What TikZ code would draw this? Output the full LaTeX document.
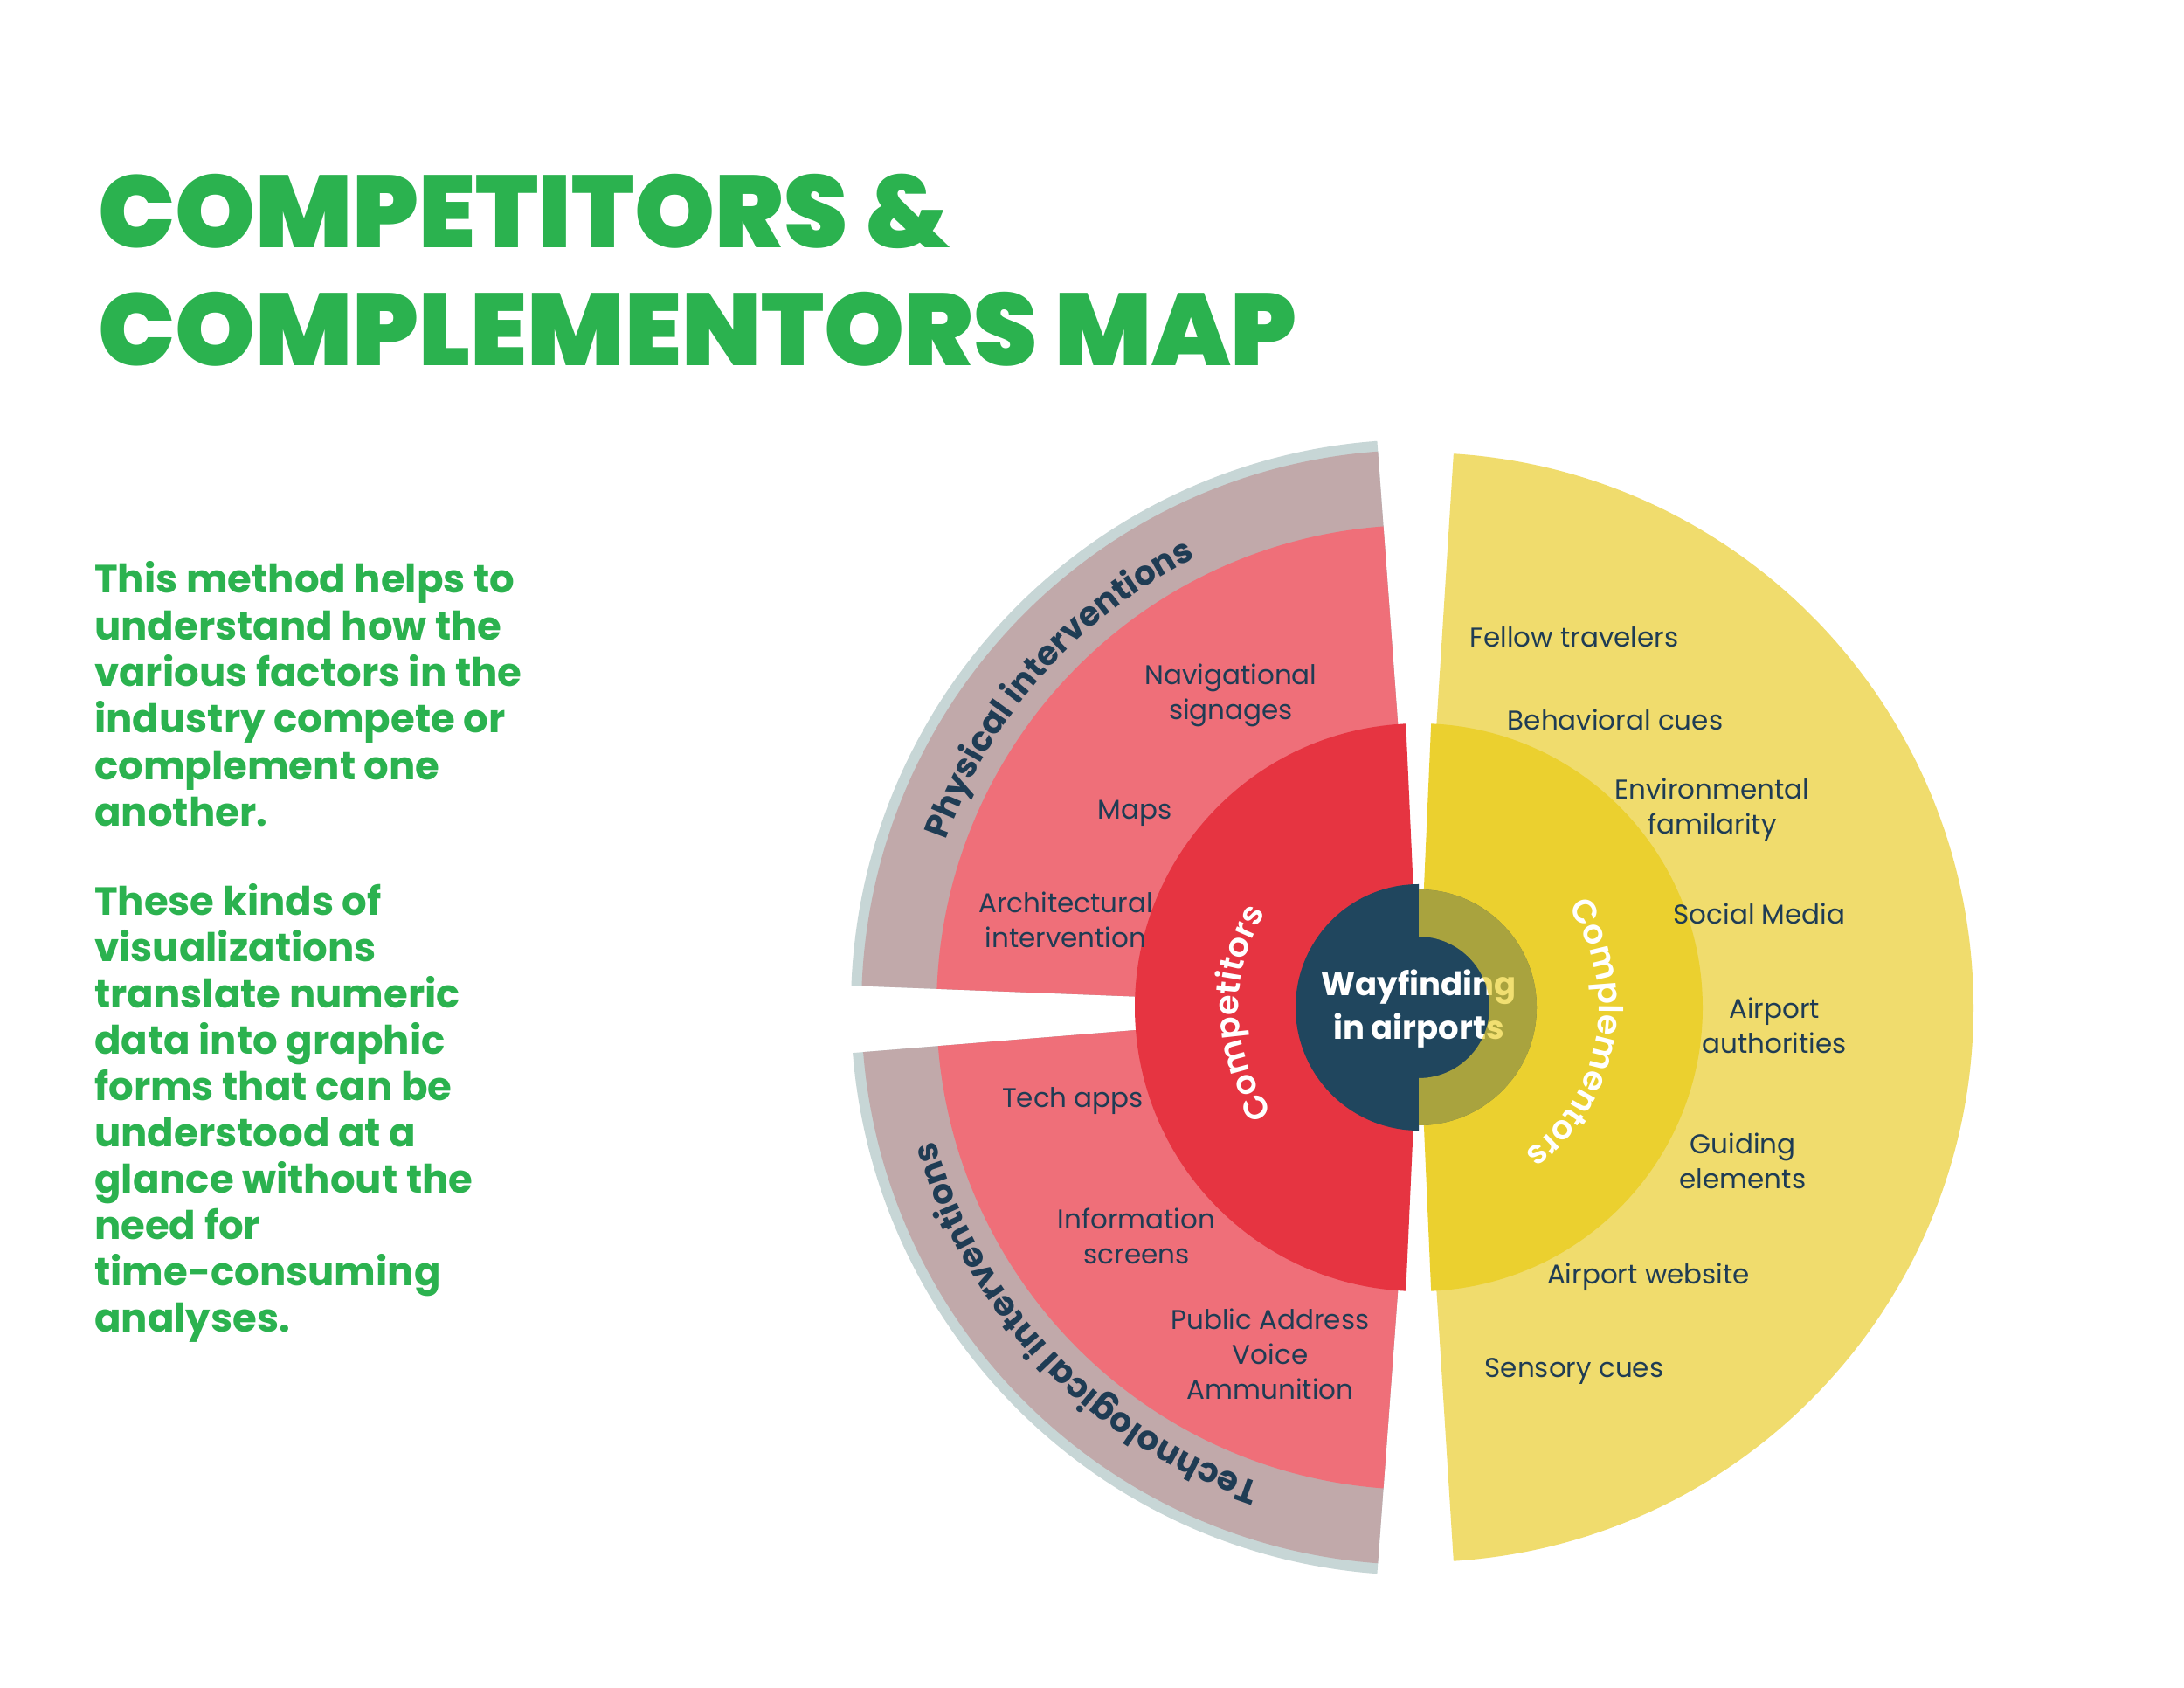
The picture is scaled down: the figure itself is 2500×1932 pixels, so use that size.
\documentclass[tikz,border=0pt]{standalone}
\usepackage{fontspec}
\setmainfont{Poppins}
\IfFontExistsTF{Poppins Black}{\newfontfamily\titlefont{Poppins Black}}{\newfontfamily\titlebase{Poppins}\newcommand\titlefont{\titlebase\bfseries}}
\IfFontExistsTF{Poppins SemiBold}{\newfontfamily\semifont{Poppins SemiBold}}{\newcommand\semifont{\bfseries}}
\usetikzlibrary{decorations.text}
\definecolor{cGreen}{HTML}{2BB24F}
\definecolor{cNavy}{HTML}{1F3C54}
\definecolor{cDark}{HTML}{20465E}
\definecolor{cRed}{HTML}{E63441}
\definecolor{cPink}{HTML}{EF6F79}
\definecolor{cMauve}{HTML}{C1A9AA}
\definecolor{cLight}{HTML}{C7D6D6}
\definecolor{cYelOut}{HTML}{F0DC6D}
\definecolor{cYelIn}{HTML}{EBD02F}
\newcommand{\mysector}[4]{\fill[#1] (0,0) -- (#2:#4) arc[start angle=#2,end angle=#3,radius=#4] -- cycle;}
\tikzset{
  lbl/.style={text=cNavy, align=center, inner sep=0pt, font=\fontsize{31}{40}\selectfont},
  para/.style={text=cGreen, anchor=base west, inner sep=0pt, font=\bfseries\fontsize{45}{53}\selectfont},
  ttl/.style={text=cGreen, anchor=base west, inner sep=0pt, font=\titlefont\fontsize{117}{135}\selectfont},
  ctr/.style={text=white, anchor=base, inner sep=0pt, font=\bfseries\fontsize{37}{50}\selectfont}
}
\begin{document}
\begin{tikzpicture}[x=1pt,y=1pt]
\useasboundingbox (0,0) rectangle (2500,1932);
\fill[white] (0,0) rectangle (2500,1932);
% title
\node[ttl] (t1) at (112,1648) {COMPETITORS \&};
\node[ttl] (t2) at (112,1513) {COMPLEMENTORS MAP};
% paragraph
\foreach \t [count=\i] in {This method helps to,understand how the,various factors in the,industry compete or,complement one,another.}
  \node[para] (pa\i) at (108,{1932-679-53.3*(\i-1)}) {\t};
\foreach \t [count=\i] in {These kinds of,visualizations,translate numeric,data into graphic,forms that can be,understood at a,glance without the,need for,time-consuming,analyses.}
  \node[para] (pb\i) at (108,{1932-1048-52.95*(\i-1)}) {\t};
% diagram
\begin{scope}[shift={(1624,779)}]
  \mysector{cLight}{94.2}{177.8}{650}
  \mysector{cMauve}{94.2}{177.8}{638}
  \mysector{cPink}{94.2}{177.8}{552}
  \mysector{cLight}{184.6}{265.8}{650}
  \mysector{cMauve}{184.6}{265.8}{638}
  \mysector{cPink}{184.6}{265.8}{552}
  \mysector{cRed}{92.6}{267.4}{325}
  \mysector{cYelOut}{-86.4}{86.4}{635}
  \mysector{cYelIn}{-87.5}{87.5}{325}
  \fill[cDark] (90:141) arc[start angle=90,end angle=270,radius=141] -- cycle;
  \fill[cDark] (-90:135) arc[start angle=-90,end angle=90,radius=135] -- cycle;
  \node[ctr] (w1) at (0,13) {Wayfinding};
  \node[ctr] (w2) at (0,-37) {in airports};
  \fill[cYelIn, opacity=0.68] (-90:135) arc[start angle=-90,end angle=90,radius=135] -- (90:81) arc[start angle=90,end angle=-90,radius=81] -- cycle;
  % arc labels
  \path[decorate, decoration={text along path, text align=center,
     text={|\bfseries\fontsize{38.5}{38.5}\selectfont\color{cNavy}|Physical interventions}}]
     (178.5:574) arc[start angle=178.5,end angle=98.5,radius=574];
  \path[decorate, decoration={text along path, text align=center,
     text={|\bfseries\fontsize{39}{39}\selectfont\color{cNavy}|Technological interventions}}]
     (264:574) arc[start angle=264,end angle=183,radius=574];
  \path[decorate, decoration={text along path, text align=center,
     text={|\semifont\fontsize{38}{38}\selectfont\color{white}|Competitors}}]
     (240:206) arc[start angle=240,end angle=124,radius=206];
  \path[decorate, decoration={text along path, text align=center,
     text={|\semifont\fontsize{38}{38}\selectfont\color{white}|Complementors}}]
     (48:206) arc[start angle=48,end angle=-68,radius=206];
\end{scope}
% labels
\node[lbl] (l1) at (1802,1203) {Fellow travelers};
\node[lbl] (l2) at (1849,1108) {Behavioral cues};
\node[lbl] (l3) at (1960,1005) {Environmental\\familarity};
\node[lbl] (l4) at (2014,886) {Social Media};
\node[lbl] (l5) at (2031,758) {Airport\\authorities};
\node[lbl] (l6) at (1995,603) {Guiding\\elements};
\node[lbl] (l7) at (1887,470) {Airport website};
\node[lbl] (l8) at (1802,362) {Sensory cues};
\node[lbl] (c1) at (1409,1136) {Navigational\\signages};
\node[lbl] (c2) at (1299,1001) {Maps};
\node[lbl] (c3) at (1220,879) {Architectural\\intervention};
\node[lbl] (c4) at (1228,672) {Tech apps};
\node[lbl] (c5) at (1301,517) {Information\\screens};
\node[lbl] (c6) at (1454,382) {Public Address\\Voice\\Ammunition};
\end{tikzpicture}
\end{document}
